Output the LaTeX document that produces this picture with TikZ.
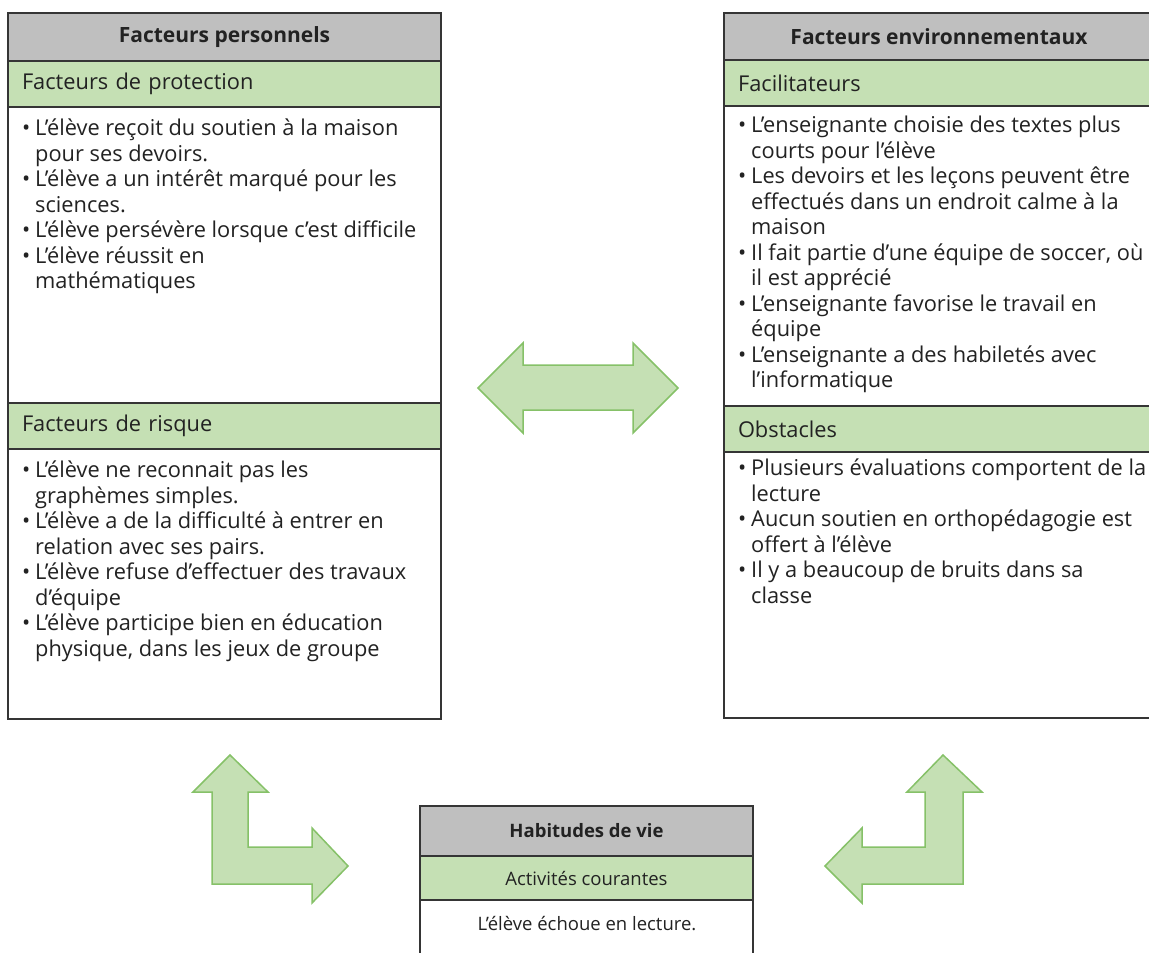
\documentclass[tikz,border=0pt]{standalone}
\usepackage{fontspec}
\setmainfont{Open Sans}
\usetikzlibrary{positioning}

\definecolor{gristete}{HTML}{BFBFBF}
\definecolor{vertpale}{HTML}{C5E0B4}
\definecolor{vertbord}{HTML}{86C168}
\definecolor{trait}{HTML}{353535}
\definecolor{texte}{HTML}{222222}

\newcommand{\puce}{\makebox[13pt][l]{•}}
\newcommand{\suite}{\hspace*{13pt}}

\tikzset{
  cadre/.style={rectangle, draw=trait, line width=1.8pt, outer sep=0pt, inner sep=0pt, fill=white},
  titre/.style={cadre, fill=gristete, text=texte, font=\fontsize{21}{25}\selectfont\bfseries},
  soustitre/.style={cadre, fill=vertpale, text=texte, text width=#1, inner xsep=14pt, align=left,
    font=\fontsize{21.8}{25.5}\selectfont},
  liste/.style={align=left, inner sep=0pt, anchor=north west, text=texte,
    font=\fontsize{21.8}{25.5}\selectfont},
  petit/.style={text=texte, font=\fontsize{18.5}{22}\selectfont},
  fleche/.style={fill=vertpale, draw=vertbord, line width=1.5pt, line join=miter},
}

\begin{document}
\begin{tikzpicture}[x=1pt,y=-1pt]
\useasboundingbox (0,0) rectangle (1149,953);

% facteurs personnels
\node[titre, minimum width=433pt, minimum height=48pt, anchor=north west] (persTitre) at (8,13) {Facteurs personnels};
\node[soustitre=405pt, minimum height=46pt, below=0pt of persTitre] (persProt) {Facteurs de protection};
\node[cadre, minimum width=433pt, minimum height=296pt, below=0pt of persProt] (persProtCorps) {};
\node[soustitre=405pt, minimum height=46pt, below=0pt of persProtCorps] (persRisq) {Facteurs de risque};
\node[cadre, minimum width=433pt, minimum height=270pt, below=0pt of persRisq] (persRisqCorps) {};

\node[liste] (persProtListe) at ([xshift=14pt,yshift=-12pt]persProtCorps.north west)
  {\puce L’élève reçoit du soutien à la maison\\
   \suite pour ses devoirs.\\
   \puce L’élève a un intérêt marqué pour les\\
   \suite sciences.\\
   \puce L'élève persévère lorsque c’est difficile\\
   \puce L’élève réussit en\\
   \suite mathématiques};
\node[liste] (persRisqListe) at ([xshift=14pt,yshift=-12pt]persRisqCorps.north west)
  {\puce L’élève ne reconnait pas les\\
   \suite graphèmes simples.\\
   \puce L’élève a de la difficulté à entrer en\\
   \suite relation avec ses pairs.\\
   \puce L’élève refuse d’effectuer des travaux\\
   \suite d’équipe\\
   \puce L’élève participe bien en éducation\\
   \suite physique, dans les jeux de groupe};

% facteurs environnementaux
\node[titre, minimum width=430pt, minimum height=47pt, anchor=north west] (envTitre) at (724,13) {Facteurs environnementaux};
\node[soustitre=402pt, minimum height=46pt, below=0pt of envTitre] (envFacil) {Facilitateurs};
\node[cadre, minimum width=430pt, minimum height=300pt, below=0pt of envFacil] (envFacilCorps) {};
\node[soustitre=402pt, minimum height=46pt, below=0pt of envFacilCorps] (envObst) {Obstacles};
\node[cadre, minimum width=430pt, minimum height=266pt, below=0pt of envObst] (envObstCorps) {};

\node[liste] (envFacilListe) at ([xshift=14pt,yshift=-10pt]envFacilCorps.north west)
  {\puce L’enseignante choisie des textes plus\\
   \suite courts pour l’élève\\
   \puce Les devoirs et les leçons peuvent être\\
   \suite effectués dans un endroit calme à la\\
   \suite maison\\
   \puce Il fait partie d’une équipe de soccer, où\\
   \suite il est apprécié\\
   \puce L’enseignante favorise le travail en\\
   \suite équipe\\
   \puce L’enseignante a des habiletés avec\\
   \suite l’informatique};
\node[liste] (envObstListe) at ([xshift=14pt,yshift=-7pt]envObstCorps.north west)
  {\puce Plusieurs évaluations comportent de la\\
   \suite lecture\\
   \puce Aucun soutien en orthopédagogie est\\
   \suite offert à l’élève\\
   \puce Il y a beaucoup de bruits dans sa\\
   \suite classe};

% habitudes de vie
\node[titre, petit, font=\fontsize{18.5}{22}\selectfont\bfseries, minimum width=333pt, minimum height=50pt, anchor=north west] (habTitre) at (420,806) {Habitudes de vie};
\node[cadre, petit, fill=vertpale, minimum width=333pt, minimum height=44pt, below=0pt of habTitre] (habActiv) {Activités courantes};
\node[cadre, minimum width=333pt, minimum height=70pt, below=0pt of habActiv] (habCorps) {};
\node[petit] (habTexte) at (587,924) {L’élève échoue en lecture.};

% fleches
\draw[fleche] (478,388) -- (523,343) -- (523,365) -- (633,365) -- (633,343) -- (678,388)
  -- (633,433) -- (633,410) -- (523,410) -- (523,433) -- cycle;
\draw[fleche] (230,755) -- (268,792) -- (248,792) -- (248,847) -- (312,847) -- (312,828)
  -- (348,866) -- (312,903) -- (312,884) -- (212,884) -- (212,792) -- (193,792) -- cycle;
\draw[fleche] (943,755) -- (982,792) -- (963,792) -- (963,884) -- (862,884) -- (862,903)
  -- (825,866) -- (862,828) -- (862,847) -- (925,847) -- (925,792) -- (907,792) -- cycle;
\end{tikzpicture}
\end{document}
